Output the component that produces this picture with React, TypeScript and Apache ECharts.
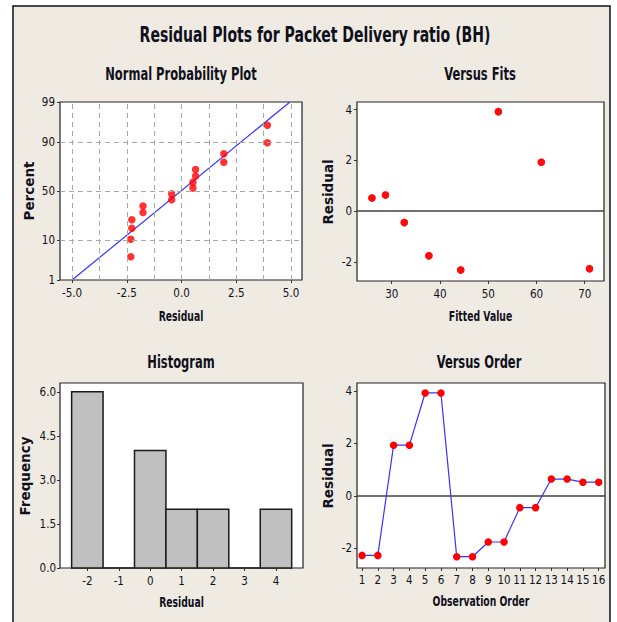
import React, { useEffect, useRef } from "react";
import * as echarts from "echarts";

// ---------- data ----------
const observationOrder = [1, 2, 3, 4, 5, 6, 7, 8, 9, 10, 11, 12, 13, 14, 15, 16];
const residuals = [-2.27, -2.27, 1.93, 1.93, 3.92, 3.92, -2.32, -2.32, -1.76, -1.76, -0.45, -0.45, 0.64, 0.64, 0.52, 0.52];
const fittedValues = [71.0, 71.0, 61.0, 61.0, 52.1, 52.1, 44.3, 44.3, 37.7, 37.7, 32.6, 32.6, 28.7, 28.7, 25.9, 25.9];

// normal probability plot (sorted residuals vs plotted percent)
const sortedResiduals = [-2.32, -2.32, -2.27, -2.27, -1.76, -1.76, -0.45, -0.45, 0.52, 0.52, 0.64, 0.64, 1.93, 1.93, 3.92, 3.92];
const plottedPercents = [4.3, 10.4, 16.5, 22.6, 28.7, 34.8, 40.9, 47.0, 53.0, 59.1, 65.2, 71.3, 77.4, 83.5, 89.6, 95.7];
const fitLineResidual = [-5.0, 4.95];
const fitLinePercent = [1, 99];

// histogram
const binCenters = [-2, -1, 0, 1, 2, 3, 4];
const frequencies = [6, 0, 4, 2, 2, 0, 2];
const binWidth = 1;

// ticks
const percentTicks = [1, 10, 50, 90, 99];
const percentGrid = [10, 50, 90];
const normResidualTicks = [-5, -2.5, 0, 2.5, 5];
const normResidualGrid = [-5, -3.75, -2.5, -1.25, 0, 1.25, 2.5, 3.75, 5];
const fittedTicks = [30, 40, 50, 60, 70];
const residualTicks = [-2, 0, 2, 4];
const histXTicks = [-2, -1, 0, 1, 2, 3, 4];
const histYTicks = [0, 1.5, 3, 4.5, 6];

// ---------- probability scale ----------
function normInv(p: number): number {
  const a = [-3.969683028665376e1, 2.209460984245205e2, -2.759285104469687e2, 1.38357751867269e2, -3.066479806614716e1, 2.506628277459239];
  const b = [-5.447609879822406e1, 1.615858368580409e2, -1.556989798598866e2, 6.680131188771972e1, -1.328068155288572e1];
  const c = [-7.784894002430293e-3, -3.223964580411365e-1, -2.400758277161838, -2.549732539343734, 4.374664141464968, 2.938163982698783];
  const d = [7.784695709041462e-3, 3.224671290700398e-1, 2.445134137142996, 3.754408661907416];
  const pl = 0.02425;
  let q: number, r: number;
  if (p < pl) {
    q = Math.sqrt(-2 * Math.log(p));
    return (((((c[0] * q + c[1]) * q + c[2]) * q + c[3]) * q + c[4]) * q + c[5]) / ((((d[0] * q + d[1]) * q + d[2]) * q + d[3]) * q + 1);
  } else if (p <= 1 - pl) {
    q = p - 0.5;
    r = q * q;
    return ((((((a[0] * r + a[1]) * r + a[2]) * r + a[3]) * r + a[4]) * r + a[5]) * q) / (((((b[0] * r + b[1]) * r + b[2]) * r + b[3]) * r + b[4]) * r + 1);
  }
  q = Math.sqrt(-2 * Math.log(1 - p));
  return -(((((c[0] * q + c[1]) * q + c[2]) * q + c[3]) * q + c[4]) * q + c[5]) / ((((d[0] * q + d[1]) * q + d[2]) * q + d[3]) * q + 1);
}
const pz = (pct: number) => normInv(pct / 100);

// ---------- styles ----------
const NARROW = '"DejaVu Sans Condensed", "Liberation Sans Narrow", sans-serif';
const WIDE = '"DejaVu Sans", Verdana, sans-serif';
const TXT = "#10101c";
const RED = "#ff0000";
const BLUE = "#3535ff";
const BEIGE = "#efebe2";
const SQUEEZE = 0.71;

const tickLabel = (vals: number[], fmt: (v: number) => string, margin: number) => ({
  customValues: vals,
  formatter: (v: number) => fmt(v),
  fontFamily: NARROW,
  fontSize: 11.5,
  color: TXT,
  margin,
  hideOverlap: false,
  showMinLabel: true,
  showMaxLabel: true,
});
const tick = (vals: number[]) => ({ show: true, customValues: vals, length: 3, inside: false, lineStyle: { color: "#333", width: 1 } });
const baseAxis = {
  type: "value" as const,
  axisLine: { show: false, onZero: false },
  splitLine: { show: false },
};

const label = (text: string, x: number, y: number, size: number) => ({
  type: "text",
  x,
  y,
  scaleX: SQUEEZE,
  style: { text, fontFamily: NARROW, fontWeight: "bold", fontSize: size, fill: TXT, textAlign: "center", textVerticalAlign: "middle" },
});
const vLabel = (text: string, x: number, y: number) => ({
  type: "text",
  x,
  y,
  rotation: Math.PI / 2,
  style: { text, fontFamily: WIDE, fontWeight: "bold", fontSize: 13.5, fill: TXT, textAlign: "center", textVerticalAlign: "middle" },
});

export default function App() {
  const ref = useRef<HTMLDivElement>(null);
  useEffect(() => {
    if (!ref.current) return;
    const chart = echarts.init(ref.current, null, { renderer: "svg" });
    const gridStyle = { show: true, backgroundColor: "#ffffff", borderColor: "#222", borderWidth: 1.2 };
    const zeroLine = {
      silent: true,
      symbol: ["none", "none"],
      label: { show: false },
      lineStyle: { type: "solid", color: "#404040", width: 1.5 },
      data: [{ yAxis: 0 }],
    };
    const option: any = {
      animation: false,
      backgroundColor: "#ffffff",
      graphic: [
        { type: "rect", z: -100, shape: { x: 13, y: 6, width: 597, height: 640 }, style: { fill: BEIGE, stroke: "#111", lineWidth: 1.5 } },
        label("Residual Plots for Packet Delivery ratio (BH)", 315, 34, 22),
        label("Normal Probability Plot", 181, 74, 18),
        label("Versus Fits", 480, 74, 18),
        label("Histogram", 181, 362, 18),
        label("Versus Order", 479, 362, 18),
        label("Residual", 181, 316, 14.5),
        label("Fitted Value", 480.5, 316, 14.5),
        label("Residual", 181.5, 602, 14.5),
        label("Observation Order", 481, 601, 14.5),
        vLabel("Percent", 29, 191),
        vLabel("Residual", 328, 192),
        vLabel("Frequency", 25, 476),
        vLabel("Residual", 328, 476),
      ],
      grid: [
        { left: 60, top: 102, width: 242, height: 178, ...gridStyle },
        { left: 357, top: 102, width: 247, height: 179, ...gridStyle },
        { left: 60, top: 383, width: 243, height: 185, ...gridStyle },
        { left: 357, top: 383, width: 248, height: 185, ...gridStyle },
      ],
      xAxis: [
        { ...baseAxis, gridIndex: 0, min: -5.55, max: 5.5, axisLabel: tickLabel(normResidualTicks, (v) => v.toFixed(1), 7), axisTick: tick(normResidualTicks) },
        { ...baseAxis, gridIndex: 1, min: 22.8, max: 74, axisLabel: tickLabel(fittedTicks, (v) => String(v), 7), axisTick: tick(fittedTicks) },
        { ...baseAxis, gridIndex: 2, min: -2.87, max: 4.86, axisLabel: tickLabel(histXTicks, (v) => String(v), 7), axisTick: tick(histXTicks) },
        { ...baseAxis, gridIndex: 3, min: 0.68, max: 16.4, axisLabel: tickLabel(observationOrder, (v) => String(v), 6), axisTick: tick(observationOrder) },
      ],
      yAxis: [
        {
          ...baseAxis, gridIndex: 0, min: pz(percentTicks[0]), max: pz(percentTicks[percentTicks.length - 1]),
          axisLabel: tickLabel(percentTicks.map(pz), (v) => {
            let best = 0;
            percentTicks.forEach((p, i) => { if (Math.abs(pz(p) - v) < Math.abs(pz(percentTicks[best]) - v)) best = i; });
            return String(percentTicks[best]);
          }, 5),
          axisTick: tick(percentTicks.map(pz)),
        },
        { ...baseAxis, gridIndex: 1, min: -2.75, max: 4.3, axisLabel: tickLabel(residualTicks, (v) => String(v), 5), axisTick: tick(residualTicks) },
        { ...baseAxis, gridIndex: 2, min: 0, max: 6.3, axisLabel: tickLabel(histYTicks, (v) => v.toFixed(1), 4), axisTick: tick(histYTicks) },
        { ...baseAxis, gridIndex: 3, min: -2.75, max: 4.3, axisLabel: tickLabel(residualTicks, (v) => String(v), 5), axisTick: tick(residualTicks) },
      ],
      series: [
        {
          type: "line",
          xAxisIndex: 0,
          yAxisIndex: 0,
          data: fitLineResidual.map((r, i) => [r, pz(fitLinePercent[i])]),
          symbol: "none",
          lineStyle: { color: BLUE, width: 1.2 },
          z: 2,
          markLine: {
            silent: true,
            symbol: ["none", "none"],
            label: { show: false },
            lineStyle: { type: [5, 4], color: "#a8a8a8", width: 1 },
            data: [
              ...normResidualGrid.map((v) => ({ xAxis: v })),
              ...percentGrid.map((p) => ({ yAxis: pz(p) })),
            ],
          },
        },
        {
          type: "scatter",
          xAxisIndex: 0,
          yAxisIndex: 0,
          data: sortedResiduals.map((r, i) => [r, pz(plottedPercents[i])]),
          symbol: "circle",
          symbolSize: 7.5,
          itemStyle: { color: RED },
          z: 3,
        },
        {
          type: "scatter",
          xAxisIndex: 1,
          yAxisIndex: 1,
          data: fittedValues.map((f, i) => [f, residuals[i]]),
          symbol: "circle",
          symbolSize: 7.5,
          itemStyle: { color: RED },
          z: 3,
          markLine: zeroLine,
        },
        {
          type: "custom",
          xAxisIndex: 2,
          yAxisIndex: 2,
          data: binCenters.map((c, i) => [c, frequencies[i]]),
          encode: { x: 0, y: 1 },
          renderItem: (_params: any, api: any) => {
            const c = api.value(0);
            const f = api.value(1);
            const p0 = api.coord([c - binWidth / 2, f]);
            const p1 = api.coord([c + binWidth / 2, 0]);
            if (f > 0) {
              return {
                type: "rect",
                shape: { x: p0[0], y: p0[1], width: p1[0] - p0[0], height: p1[1] - p0[1] },
                style: { fill: "#c0c0c0", stroke: "#1a1a1a", lineWidth: 1.5 },
              };
            }
            return {
              type: "line",
              shape: { x1: p0[0], y1: p1[1], x2: p1[0], y2: p1[1] },
              style: { stroke: "#1a1a1a", lineWidth: 1.5 },
            };
          },
        },
        {
          type: "line",
          xAxisIndex: 3,
          yAxisIndex: 3,
          data: observationOrder.map((o, i) => [o, residuals[i]]),
          symbol: "circle",
          symbolSize: 7.5,
          showSymbol: true,
          lineStyle: { color: BLUE, width: 1.2 },
          itemStyle: { color: RED, borderWidth: 0 },
          z: 3,
          markLine: zeroLine,
        },
      ],
    };
    chart.setOption(option);
    return () => chart.dispose();
  }, []);
  return <div ref={ref} style={{ position: "fixed", left: 0, top: 0, width: 617, height: 622 }} />;
}
